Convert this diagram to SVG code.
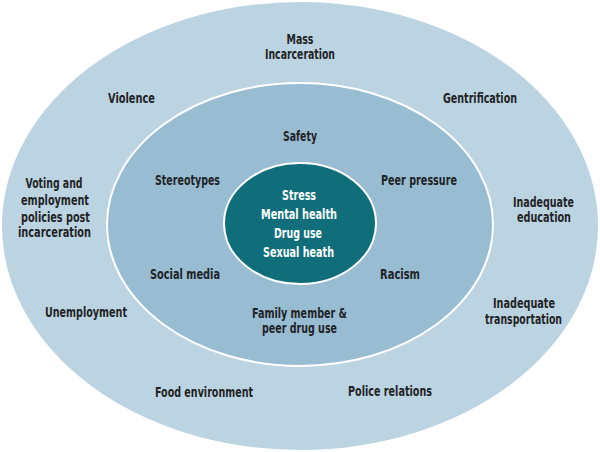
<svg xmlns="http://www.w3.org/2000/svg" width="600" height="452" viewBox="0 0 600 452">
  <style>
    .ring { stroke: #ffffff; stroke-width: 2; }
    .lbl { font-family: "DejaVu Sans", "Liberation Sans", sans-serif; font-stretch: condensed; font-weight: bold; font-size: 14px; fill: #1f2326; text-anchor: middle; }
    .core { fill: #ffffff; }
  </style>
  <rect width="600" height="452" fill="#ffffff"/>
  <g id="outer-ring">
    <ellipse cx="300" cy="226" rx="298" ry="224" fill="#bcd4e2"/>
  </g>
  <g id="middle-ring">
    <ellipse class="ring" cx="300" cy="224.5" rx="193" ry="141.5" fill="#98bdd3"/>
  </g>
  <g id="inner-core">
    <ellipse class="ring" cx="300" cy="223.5" rx="76" ry="60.5" fill="#0f6e7a"/>
  </g>
  <g id="outer-labels">
    <g id="n-mass"><text class="lbl" x="300" y="44" textLength="27" lengthAdjust="spacingAndGlyphs">Mass</text><text class="lbl" x="300" y="59" textLength="70" lengthAdjust="spacingAndGlyphs">Incarceration</text></g>
    <g id="n-violence"><text class="lbl" x="131.5" y="103" textLength="47" lengthAdjust="spacingAndGlyphs">Violence</text></g>
    <g id="n-gentrification"><text class="lbl" x="480" y="103" textLength="74" lengthAdjust="spacingAndGlyphs">Gentrification</text></g>
    <g id="n-voting"><text class="lbl" x="54" y="188" textLength="57" lengthAdjust="spacingAndGlyphs">Voting and</text><text class="lbl" x="55" y="205" textLength="68" lengthAdjust="spacingAndGlyphs">employment</text><text class="lbl" x="55.5" y="222" textLength="69" lengthAdjust="spacingAndGlyphs">policies post</text><text class="lbl" x="54.5" y="237" textLength="73" lengthAdjust="spacingAndGlyphs">incarceration</text></g>
    <g id="n-education"><text class="lbl" x="543.5" y="207" textLength="61" lengthAdjust="spacingAndGlyphs">Inadequate</text><text class="lbl" x="544" y="222" textLength="54" lengthAdjust="spacingAndGlyphs">education</text></g>
    <g id="n-unemployment"><text class="lbl" x="86" y="317" textLength="82" lengthAdjust="spacingAndGlyphs">Unemployment</text></g>
    <g id="n-transportation"><text class="lbl" x="524" y="308" textLength="62" lengthAdjust="spacingAndGlyphs">Inadequate</text><text class="lbl" x="523.5" y="324" textLength="77" lengthAdjust="spacingAndGlyphs">transportation</text></g>
    <g id="n-food"><text class="lbl" x="204" y="397" textLength="98" lengthAdjust="spacingAndGlyphs">Food environment</text></g>
    <g id="n-police"><text class="lbl" x="390" y="396" textLength="84" lengthAdjust="spacingAndGlyphs">Police relations</text></g>
  </g>
  <g id="middle-labels">
    <g id="n-safety"><text class="lbl" x="300" y="141" textLength="34" lengthAdjust="spacingAndGlyphs">Safety</text></g>
    <g id="n-stereotypes"><text class="lbl" x="187.5" y="185" textLength="65" lengthAdjust="spacingAndGlyphs">Stereotypes</text></g>
    <g id="n-peer"><text class="lbl" x="419" y="185" textLength="76" lengthAdjust="spacingAndGlyphs">Peer pressure</text></g>
    <g id="n-social"><text class="lbl" x="185" y="279" textLength="70" lengthAdjust="spacingAndGlyphs">Social media</text></g>
    <g id="n-racism"><text class="lbl" x="400" y="279" textLength="40" lengthAdjust="spacingAndGlyphs">Racism</text></g>
    <g id="n-family"><text class="lbl" x="299.5" y="318" textLength="95" lengthAdjust="spacingAndGlyphs">Family member &amp;</text><text class="lbl" x="299.5" y="333" textLength="75" lengthAdjust="spacingAndGlyphs">peer drug use</text></g>
  </g>
  <g id="core-labels">
    <text class="lbl core" x="299" y="200" textLength="34" lengthAdjust="spacingAndGlyphs">Stress</text>
    <text class="lbl core" x="299" y="219" textLength="76" lengthAdjust="spacingAndGlyphs">Mental health</text>
    <text class="lbl core" x="298" y="238" textLength="48" lengthAdjust="spacingAndGlyphs">Drug use</text>
    <text class="lbl core" x="298.5" y="257" textLength="71" lengthAdjust="spacingAndGlyphs">Sexual heath</text>
  </g>
  <g id="connectors"/>
</svg>
